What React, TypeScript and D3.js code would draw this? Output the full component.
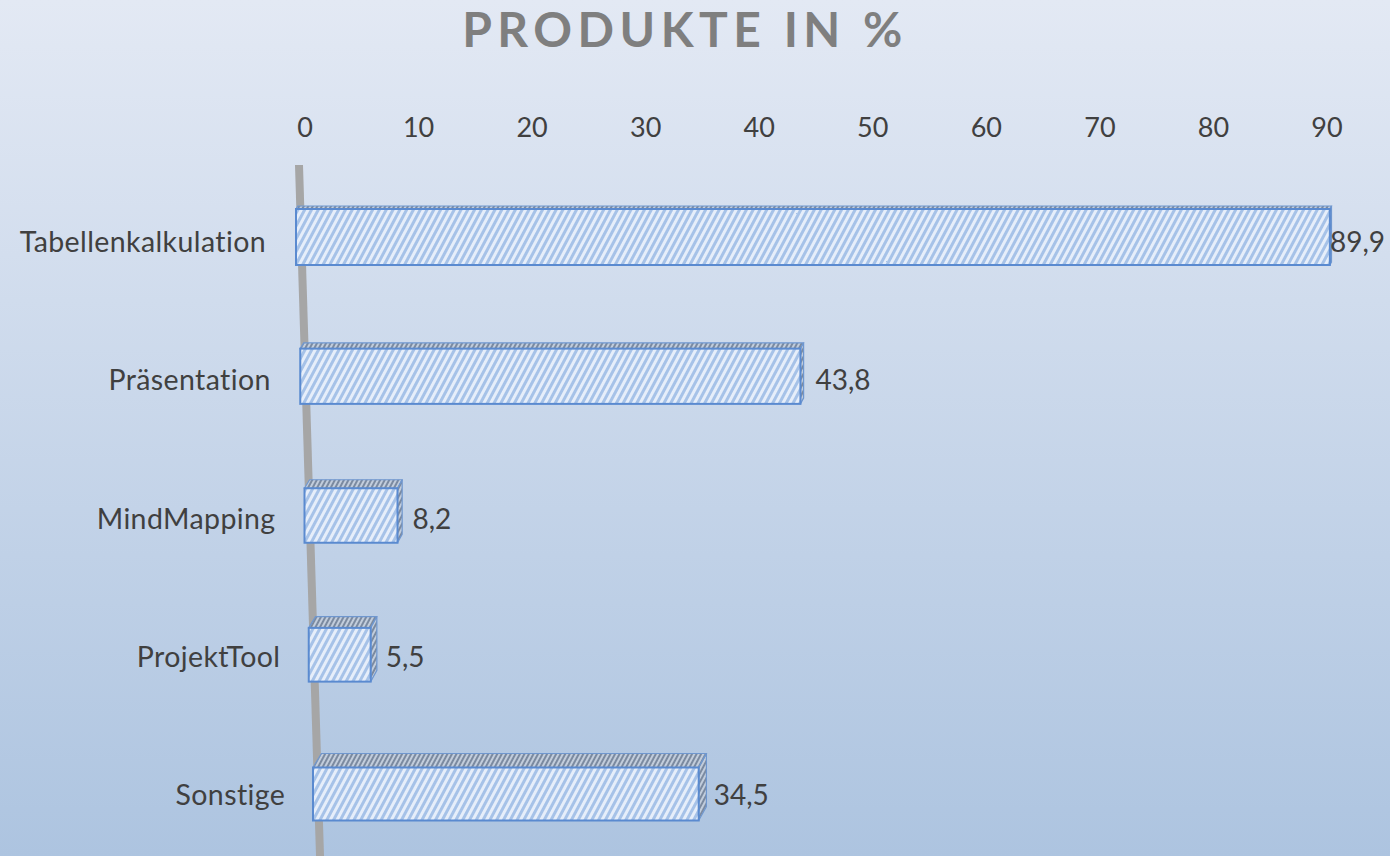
import React from "react";
import * as d3 from "d3";

const categories = ["Tabellenkalkulation", "Präsentation", "MindMapping", "ProjektTool", "Sonstige"];
const values = [89.9, 43.8, 8.2, 5.5, 34.5];
const valueLabels = ["89,9", "43,8", "8,2", "5,5", "34,5"];
const ticks = [0, 10, 20, 30, 40, 50, 60, 70, 80, 90];
const title = "PRODUKTE IN %";

const W = 1390;
const H = 856;
const FONT = "Lato, 'Open Sans', sans-serif";

export default function App() {
  const rowY = d3.scaleLinear().domain([0, categories.length - 1]).range([237, 794]);
  const zeroX = d3.scaleLinear().domain([0, categories.length - 1]).range([296, 313]);
  const unit = d3.scaleLinear().domain([0, categories.length - 1]).range([11.5, 11.18]);
  const depth = d3.scaleLinear().domain([0, categories.length - 1]).range([3, 14]);
  const barH = d3.scaleLinear().domain([0, categories.length - 1]).range([56, 53]);
  const tickX = d3.scaleLinear().domain([0, 90]).range([305, 1327]);

  return (
    <svg width={W} height={H} style={{ display: "block", position: "absolute", left: 0, top: 0 }}>
      <defs>
        <linearGradient id="bg" x1="0" y1="0" x2="0" y2="1">
          <stop offset="0" stopColor="#e3e9f4" />
          <stop offset="1" stopColor="#adc4e0" />
        </linearGradient>
        <pattern id="hatch" patternUnits="userSpaceOnUse" width="6" height="6" patternTransform="rotate(28)">
          <rect width="6" height="6" fill="#e6eefa" />
          <rect width="3" height="6" fill="#a6c2e8" />
        </pattern>
        <pattern id="hatchTop" patternUnits="userSpaceOnUse" width="4" height="4" patternTransform="rotate(28)">
          <rect width="4" height="4" fill="#c2cddc" />
          <rect width="2" height="4" fill="#7b8aa0" />
        </pattern>
      </defs>
      <rect x={0} y={0} width={W} height={H} fill="url(#bg)" />
      <text
        x={685}
        y={47}
        textAnchor="middle"
        fontFamily={FONT}
        fontWeight="bold"
        fontSize={48}
        letterSpacing={5.5}
        fill="#7f7f7f"
      >
        {title}
      </text>
      {ticks.map((t) => (
        <text key={t} x={tickX(t)} y={137} textAnchor="middle" fontFamily={FONT} fontSize={27} fill="#404040">
          {t}
        </text>
      ))}
      <polygon points="295,165 303,165 324,856 316,856" fill="#a6a6a6" />
      {categories.map((c, i) => {
        const cy = rowY(i);
        const h = barH(i);
        const x0 = zeroX(i);
        const x1 = x0 + values[i] * unit(i);
        const top = cy - h / 2;
        const dy = depth(i);
        const dxL = dy * 0.6;
        const dxR = dy * 0.55;
        const topFace = `${x0},${top} ${x0 + dxL},${top - dy} ${x1 + dxR},${top - dy} ${x1},${top}`;
        const sideFace = `${x1},${top} ${x1 + dxR},${top - dy} ${x1 + dxR},${top + h - dy} ${x1},${top + h}`;
        const labelX = Math.min(x1 + 15, 1330);
        const base = cy + 15 - i;
        return (
          <g key={c}>
            <text
              x={266 + 4.8 * i}
              y={base}
              textAnchor="end"
              fontFamily={FONT}
              fontSize={28.5}
              letterSpacing={0.4}
              fill="#404040"
            >
              {c}
            </text>
            <polygon points={topFace} fill="url(#hatchTop)" stroke="#6f97cf" strokeWidth={1.2} />
            <polygon points={sideFace} fill="url(#hatchTop)" stroke="#6f97cf" strokeWidth={1.2} />
            <rect x={x0} y={top} width={x1 - x0} height={h} fill="url(#hatch)" stroke="#5a8ad0" strokeWidth={2} />
            <text x={labelX} y={base} fontFamily={FONT} fontSize={28} fill="#404040">
              {valueLabels[i]}
            </text>
          </g>
        );
      })}
    </svg>
  );
}
